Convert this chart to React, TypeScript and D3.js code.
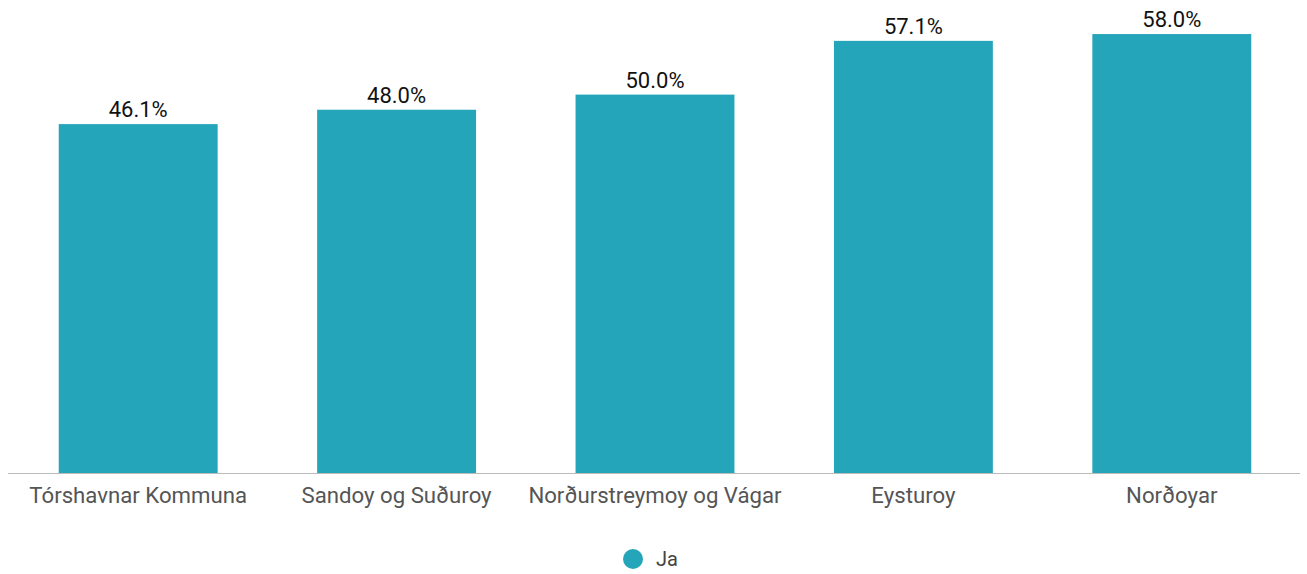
import React from 'react';
import * as d3 from 'd3';

const categories = ['Tórshavnar Kommuna', 'Sandoy og Suðuroy', 'Norðurstreymoy og Vágar', 'Eysturoy', 'Norðoyar'];
const values = [46.1, 48.0, 50.0, 57.1, 58.0];
const seriesName = 'Ja';

const WIDTH = 1307;
const HEIGHT = 574;
const BAR_COLOR = '#25a5ba';

export default function App() {
  const x = d3.scaleBand<string>()
    .domain(categories)
    .range([9, 1301])
    .paddingInner(0.385)
    .paddingOuter(0.1925);

  const y = d3.scaleLinear()
    .domain([0, 62.5])
    .range([473, 0]);

  const font = 'Roboto, sans-serif';

  return (
    <svg width={WIDTH} height={HEIGHT} style={{ position: 'absolute', left: 0, top: 0 }}>
      {categories.map((c, i) => (
        <g key={c}>
          <rect
            x={x(c)}
            y={y(values[i])}
            width={x.bandwidth()}
            height={y(0) - y(values[i])}
            fill={BAR_COLOR}
          />
          <text
            x={(x(c) ?? 0) + x.bandwidth() / 2}
            y={y(values[i]) - 7}
            textAnchor="middle"
            fontFamily={font}
            fontSize={22}
            fontWeight={400}
            fill="#111"
          >
            {values[i].toFixed(1)}%
          </text>
          <text
            x={(x(c) ?? 0) + x.bandwidth() / 2}
            y={503}
            textAnchor="middle"
            fontFamily={font}
            fontSize={22.2}
            fontWeight={400}
            fill="#555"
          >
            {c}
          </text>
        </g>
      ))}
      <line x1={8} x2={1300} y1={y(0) + 0.5} y2={y(0) + 0.5} stroke="#bbb" strokeWidth={1} />
      <g>
        <circle cx={633} cy={559} r={10} fill={BAR_COLOR} />
        <text x={656} y={566} fontFamily={font} fontSize={20} fontWeight={400} fill="#444">
          {seriesName}
        </text>
      </g>
    </svg>
  );
}
